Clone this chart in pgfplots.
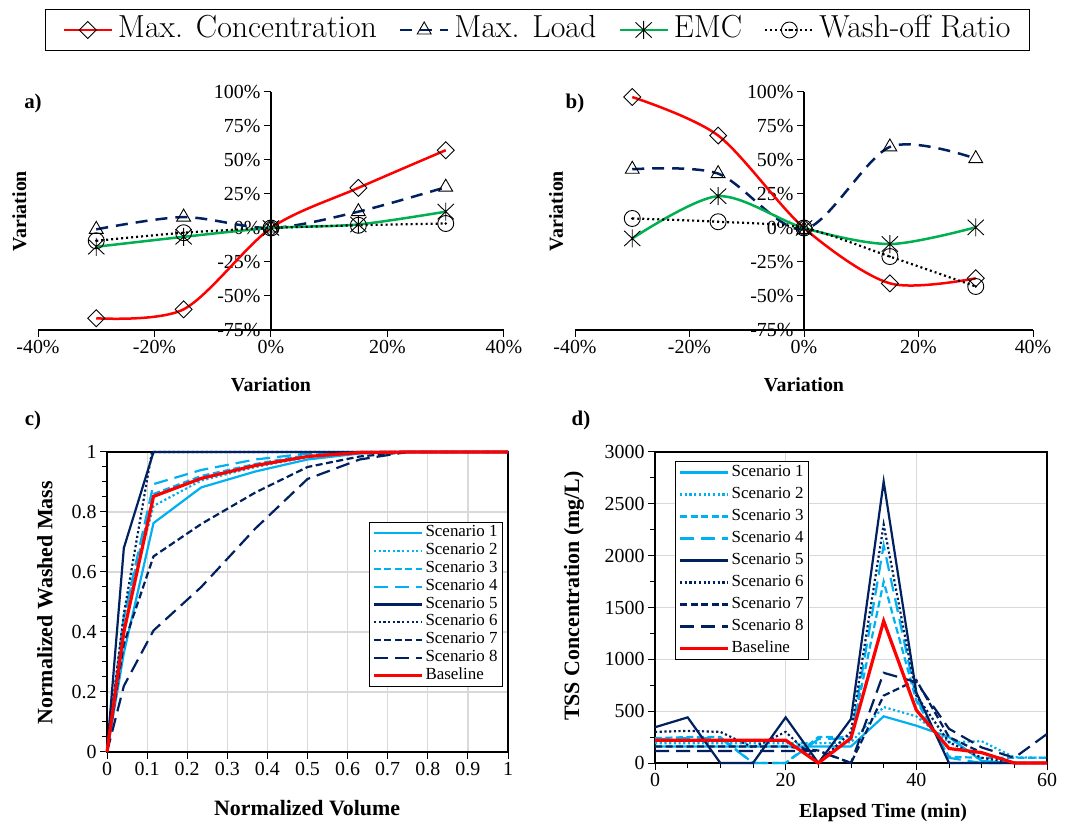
\documentclass[border=0pt]{standalone}
\usepackage{pgfplots}
\pgfplotsset{compat=1.18}
\usepackage{fontspec}
\setmainfont{Liberation Serif}
\newfontfamily\lmfont{Latin Modern Roman}
\usetikzlibrary{plotmarks}
\definecolor{navy}{HTML}{002060}
\definecolor{lblue}{HTML}{00B0F0}
\definecolor{egreen}{HTML}{00B050}
\definecolor{gridgray}{HTML}{D9D9D9}
\newcommand{\fs}[1]{\fontsize{#1}{#1}\selectfont}

\pgfdeclareplotmark{odot}{%
  \pgfpathcircle{\pgfpointorigin}{\pgfplotmarksize}\pgfusepathqstroke
  \pgfpathcircle{\pgfpointorigin}{1.3bp}\pgfusepathqfill}
\pgfdeclareplotmark{vast}{%
  \pgfpathmoveto{\pgfqpoint{0pt}{\pgfplotmarksize}}%
  \pgfpathlineto{\pgfqpoint{0pt}{-\pgfplotmarksize}}%
  \pgfpathmoveto{\pgfqpoint{0.9\pgfplotmarksize}{0.85\pgfplotmarksize}}%
  \pgfpathlineto{\pgfqpoint{-0.9\pgfplotmarksize}{-0.85\pgfplotmarksize}}%
  \pgfpathmoveto{\pgfqpoint{-0.9\pgfplotmarksize}{0.85\pgfplotmarksize}}%
  \pgfpathlineto{\pgfqpoint{0.9\pgfplotmarksize}{-0.85\pgfplotmarksize}}%
  \pgfusepathqstroke}

\pgfplotsset{
  sens/.style={
    scale only axis, width=#1, height=238bp,
    xmin=-40,xmax=40,ymin=-75,ymax=100,
    axis x line=bottom, axis y line=center,
    hide obscured x ticks=false, hide obscured y ticks=false,
    axis line style={-, line width=1.2bp, black},
    every inner x axis line/.append style={-},
    every outer x axis line/.append style={-},
    every inner y axis line/.append style={-},
    every outer y axis line/.append style={-},
    xtick={-40,-20,0,20,40},
    xticklabels={-40\%,-20\%,0\%,20\%,40\%},
    ytick={-75,-50,-25,0,25,50,75,100},
    yticklabels={-75\%,-50\%,-25\%,0\%,25\%,50\%,75\%,100\%},
    tick align=outside, major tick length=7bp,
    tick style={black, line width=1bp},
    ticklabel style={font=\fs{20}},
    xlabel={Variation}, ylabel={Variation},
    every axis x label/.style={at={(axis description cs:0.5,-0.231)},anchor=center,font=\bfseries\fs{20}},
    every axis y label/.style={at={(axis description cs:-0.04,0.5)},anchor=center,rotate=90,font=\bfseries\fs{20}},
    clip=false,
  },
  mc/.style={red, line width=2.5bp, smooth, mark=square, mark size=6bp, mark options={solid, draw=black, fill=none, line width=0.9bp, rotate=45}},
  ml/.style={navy, line width=2.5bp, smooth, dash pattern=on 12bp off 8bp, mark=triangle, mark size=8bp, mark options={solid, draw=black, fill=none, line width=0.9bp}},
  emc/.style={egreen, line width=2.5bp, smooth, mark=vast, mark size=9bp, mark options={solid, draw=black, line width=0.9bp}},
  wr/.style={black, line width=2.2bp, smooth, dash pattern=on 2bp off 3bp, mark=odot, mark size=8bp, mark options={solid, draw=black, fill=black, line width=0.9bp}},
  scen/.style={
    scale only axis, anchor=south west, clip=false,
    axis line style={black, line width=1.2bp},
    tick align=outside, major tick length=7bp, minor tick length=5bp,
    tick style={black, line width=1bp}, tick pos=left,
    grid=major, major grid style={gridgray, line width=1.2bp},
    ticklabel style={font=\fs{20}},
    /pgf/number format/assume math mode=true,
    /pgf/number format/1000 sep={},
    scaled ticks=false,
    legend cell align=left,
    legend image code/.code={\draw[##1] (0bp,0bp) -- (48bp,0bp);},
  },
  s1/.style={lblue, line width=2.2bp},
  s2/.style={lblue, line width=2.2bp, dash pattern=on 2.2bp off 2.5bp},
  s3/.style={lblue, line width=2.2bp, dash pattern=on 7bp off 3.5bp},
  s4/.style={lblue, line width=2.2bp, dash pattern=on 14bp off 7bp},
  s5/.style={navy, line width=2.2bp},
  s6/.style={navy, line width=2.2bp, dash pattern=on 2.2bp off 2.5bp},
  s7/.style={navy, line width=2.2bp, dash pattern=on 7bp off 3.5bp},
  s8/.style={navy, line width=2.2bp, dash pattern=on 14bp off 7bp},
  sb/.style={red, line width=3.2bp},
}

\begin{document}
\begin{tikzpicture}
\path[use as bounding box] (0bp,0bp) rectangle (1069bp,826bp);

% ---------------- a) ----------------
\begin{axis}[sens=466bp, at={(38bp,496bp)}, anchor=south west,
  legend columns=4,
  legend style={at={(axis description cs:1.072,1.2605)}, anchor=center, draw=black, line width=1.2bp,
    font=\lmfont\fs{32}, inner xsep=17bp, inner ysep=5bp,
    nodes={inner ysep=0bp, text height=23bp, text depth=8bp},
    /tikz/every odd column/.append style={column sep=3bp},
    /tikz/every even column/.append style={column sep=20bp}},
  legend image code/.code={\draw[mark repeat=2,mark phase=2,#1] plot coordinates {(0bp,0bp) (24bp,0bp) (48bp,0bp)};},
]
\addplot[mc] coordinates {(-30,-66.4) (-15,-59.8) (0,0) (15,29.5) (30,57.2)};
\addlegendentry{Max. Concentration}
\addplot[ml] coordinates {(-30,-1) (-15,8) (0,0) (15,12) (30,30)};
\addlegendentry{Max. Load}
\addplot[emc] coordinates {(-30,-13.8) (-15,-6.5) (0,0) (15,2.6) (30,12)};
\addlegendentry{EMC}
\addplot[wr] coordinates {(-30,-9.4) (-15,-3.5) (0,0) (15,2) (30,3.3)};
\addlegendentry{Wash-off Ratio}
\end{axis}

% ---------------- b) ----------------
\begin{axis}[sens=458bp, at={(575bp,496bp)}, anchor=south west,
  every axis y label/.style={at={(axis description cs:-0.041,0.5)},anchor=center,rotate=90,font=\bfseries\fs{20}},
]
\addplot[mc] coordinates {(-30,96.3) (-15,68) (0,0) (15,-40.7) (30,-37)};
\addplot[ml] coordinates {(-30,43.2) (-15,40) (0,-1) (15,59.6) (30,51)};
\addplot[emc] coordinates {(-30,-7.7) (-15,23.4) (0,0) (15,-11.8) (30,0.5)};
\addplot[wr] coordinates {(-30,7) (-15,4.6) (0,0) (15,-21) (30,-43)};
\end{axis}

% ---------------- c) ----------------
\begin{axis}[scen, at={(107bp,74bp)}, width=401bp, height=300bp,
  xmin=0,xmax=1,ymin=0,ymax=1,
  xtick={0,0.1,0.2,0.3,0.4,0.5,0.6,0.7,0.8,0.9,1},
  ytick={0,0.2,0.4,0.6,0.8,1},
  minor y tick num=3,
  xlabel={Normalized Volume}, ylabel={Normalized Washed Mass},
  every axis x label/.style={at={(axis description cs:0.499,-0.187)},anchor=center,font=\bfseries\fs{22}},
  every axis y label/.style={at={(axis description cs:-0.155,0.497)},anchor=center,rotate=90,font=\bfseries\fs{22}},
  legend style={at={(axis description cs:0.9875,0.767)}, anchor=north east, draw=black, line width=1bp,
    font=\fs{17}, nodes={inner ysep=0bp, text height=12.5bp, text depth=5.3bp}, row sep=0bp},
]
\addplot[s1] coordinates {(0,0) (0.042,0.33) (0.116,0.763) (0.235,0.882) (0.37,0.935) (0.5,0.975) (0.63,0.995) (0.75,1) (1,1)};
\addlegendentry{Scenario 1}
\addplot[s2] coordinates {(0,0) (0.042,0.45) (0.116,0.82) (0.235,0.905) (0.37,0.95) (0.5,0.983) (0.63,0.998) (0.75,1) (1,1)};
\addlegendentry{Scenario 2}
\addplot[s3] coordinates {(0,0) (0.042,0.45) (0.116,0.86) (0.235,0.92) (0.37,0.96) (0.5,0.99) (0.63,1) (1,1)};
\addlegendentry{Scenario 3}
\addplot[s4] coordinates {(0,0) (0.042,0.45) (0.116,0.893) (0.235,0.94) (0.37,0.975) (0.5,0.995) (0.63,1) (1,1)};
\addlegendentry{Scenario 4}
\addplot[s5] coordinates {(0,0) (0.042,0.68) (0.116,1) (1,1)};
\addlegendentry{Scenario 5}
\addplot[s6] coordinates {(0,0) (0.042,0.46) (0.112,1) (1,1)};
\addlegendentry{Scenario 6}
\addplot[s7] coordinates {(0,0) (0.042,0.36) (0.116,0.652) (0.235,0.76) (0.37,0.865) (0.5,0.95) (0.63,0.985) (0.75,1) (1,1)};
\addlegendentry{Scenario 7}
\addplot[s8] coordinates {(0,0) (0.042,0.22) (0.116,0.405) (0.235,0.55) (0.37,0.745) (0.5,0.91) (0.63,0.975) (0.75,1) (1,1)};
\addlegendentry{Scenario 8}
\addplot[sb] coordinates {(0,0) (0.042,0.40) (0.116,0.852) (0.235,0.912) (0.37,0.955) (0.5,0.985) (0.63,0.998) (0.75,1) (1,1)};
\addlegendentry{Baseline}
\end{axis}

% ---------------- d) ----------------
\begin{axis}[scen, at={(655bp,63bp)}, width=392bp, height=311bp,
  xmin=0,xmax=60,ymin=0,ymax=3000,
  xtick={0,20,40,60}, minor x tick num=3,
  ytick={0,500,1000,1500,2000,2500,3000}, minor y tick num=1,
  xlabel={Elapsed Time (min)}, ylabel={TSS Concentration (mg/L)},
  every axis x label/.style={at={(axis description cs:0.582,-0.161)},anchor=center,font=\bfseries\fs{20}},
  every axis y label/.style={at={(axis description cs:-0.207,0.537)},anchor=center,rotate=90,font=\bfseries\fs{22}},
  legend style={at={(axis description cs:0.051,0.971)}, anchor=north west, draw=black, line width=1bp,
    font=\fs{17}, nodes={inner ysep=0bp, text height=12.5bp, text depth=5.3bp}, row sep=4.2bp},
]
\addplot[s1] coordinates {(0,160) (5,160) (10,160) (15,160) (20,160) (25,160) (30,160) (35,450) (40,360) (45,250) (50,20) (55,0) (60,0)};
\addlegendentry{Scenario 1}
\addplot[s2] coordinates {(0,190) (5,190) (10,190) (15,190) (20,190) (25,190) (30,200) (35,540) (40,450) (45,200) (50,210) (55,55) (60,50)};
\addlegendentry{Scenario 2}
\addplot[s3] coordinates {(0,240) (5,250) (10,250) (15,0) (20,0) (25,250) (30,250) (35,1750) (40,600) (45,60) (50,50) (55,50) (60,50)};
\addlegendentry{Scenario 3}
\addplot[s4] coordinates {(0,230) (5,240) (10,240) (15,0) (20,0) (25,230) (30,240) (35,2100) (40,620) (45,50) (50,0) (55,0) (60,0)};
\addlegendentry{Scenario 4}
\addplot[s5] coordinates {(0,345) (5,440) (10,0) (15,0) (20,440) (25,0) (30,425) (35,2715) (40,680) (45,0) (50,0) (55,0) (60,0)};
\addlegendentry{Scenario 5}
\addplot[s6] coordinates {(0,300) (5,310) (10,300) (15,150) (20,300) (25,0) (30,300) (35,2300) (40,650) (45,200) (50,50) (55,0) (60,0)};
\addlegendentry{Scenario 6}
\addplot[s7] coordinates {(0,160) (5,160) (10,160) (15,160) (20,160) (25,120) (30,0) (35,650) (40,800) (45,250) (50,100) (55,0) (60,0)};
\addlegendentry{Scenario 7}
\addplot[s8] coordinates {(0,115) (5,115) (10,115) (15,115) (20,115) (25,115) (30,0) (35,870) (40,780) (45,330) (50,150) (55,50) (60,280)};
\addlegendentry{Scenario 8}
\addplot[sb] coordinates {(0,220) (5,220) (10,220) (15,220) (20,220) (25,0) (30,240) (35,1370) (40,510) (45,140) (50,100) (55,0) (60,0)};
\addlegendentry{Baseline}
\end{axis}

% panel letters
\node[font=\bfseries\fs{21}] at (33bp,723bp) {a)};
\node[font=\bfseries\fs{21}] at (575bp,723bp) {b)};
\node[font=\bfseries\fs{21}] at (33bp,406bp) {c)};
\node[font=\bfseries\fs{21}] at (581bp,406bp) {d)};
\end{tikzpicture}
\end{document}
